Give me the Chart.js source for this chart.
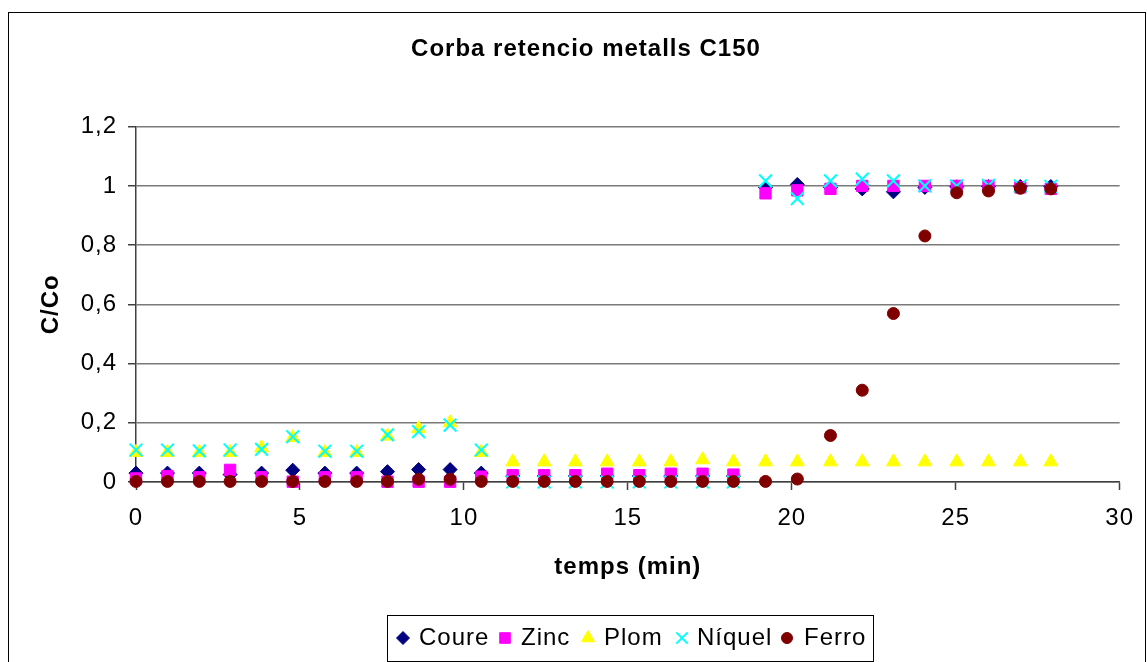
<!DOCTYPE html>
<html><head><meta charset="utf-8">
<script src="https://cdn.jsdelivr.net/npm/chart.js@4.4.1/dist/chart.umd.min.js"></script>
<style>html,body{margin:0;padding:0;background:#fff;overflow:hidden}canvas{display:block}</style>
</head><body>
<canvas id="c" width="1147" height="662"></canvas>
<script>
// ---- DATA ----
const times  = [0, 0.96, 1.93, 2.87, 3.83, 4.78, 5.76, 6.73, 7.67, 8.62, 9.58, 10.53, 11.49, 12.45, 13.4, 14.37, 15.35, 16.31, 17.28, 18.22, 19.2, 20.17, 21.18, 22.15, 23.1, 24.06, 25.03, 26.0, 26.97, 27.9];
const coure  = [0.03, 0.03, 0.03, 0.025, 0.03, 0.04, 0.03, 0.03, 0.035, 0.042, 0.042, 0.03, 0.02, 0.02, 0.02, 0.02, 0.02, 0.02, 0.02, 0.02, 0.995, 1.005, 0.995, 0.99, 0.98, 0.995, 0.997, 0.998, 0.998, 0.998];
const zinc   = [0.012, 0.02, 0.016, 0.041, 0.016, 0.001, 0.016, 0.016, 0.001, 0.001, 0.001, 0.018, 0.023, 0.023, 0.023, 0.028, 0.023, 0.028, 0.028, 0.025, 0.975, 0.985, 0.99, 1.0, 1.0, 1.0, 1.0, 1.0, 0.995, 0.99];
const plom   = [0.1, 0.1, 0.1, 0.1, 0.115, 0.15, 0.1, 0.1, 0.155, 0.18, 0.2, 0.1, 0.068, 0.068, 0.068, 0.068, 0.068, 0.068, 0.075, 0.068, 0.068, 0.068, 0.068, 0.068, 0.068, 0.068, 0.068, 0.068, 0.068, 0.068];
const niquel = [0.108, 0.108, 0.105, 0.108, 0.11, 0.153, 0.104, 0.104, 0.159, 0.17, 0.192, 0.108, 0, 0, 0, 0, 0, 0, 0, 0, 1.017, 0.957, 1.017, 1.023, 1.017, 1.0, 1.0, 1.002, 1.0, 0.999];
const ferro  = [0.002, 0.002, 0.002, 0.002, 0.002, 0.002, 0.002, 0.002, 0.002, 0.009, 0.009, 0.002, 0.002, 0.002, 0.002, 0.002, 0.002, 0.002, 0.002, 0.002, 0.002, 0.01, 0.157, 0.31, 0.569, 0.831, 0.977, 0.983, 0.992, 0.99];

const seriesNames = ['Coure', 'Zinc', 'Plom', 'Níquel', 'Ferro'];
const xTickValues = [0, 5, 10, 15, 20, 25, 30];
const yTickValues = [0, 0.2, 0.4, 0.6, 0.8, 1, 1.2];
const yTickLabels = ['0', '0,2', '0,4', '0,6', '0,8', '1', '1,2'];
const chartTitle = 'Corba retencio metalls C150';
const xTitle = 'temps (min)';
const yTitle = 'C/Co';

// ---- STYLES ----
const FONT = "'Liberation Sans', Arial, Helvetica, sans-serif";
const styles = [
  {pointStyle: 'rectRot',  radius: 7, color: '#000080', bw: 1},
  {pointStyle: 'rect',     radius: 8, color: '#FF00FF', bw: 1},
  {pointStyle: 'triangle', radius: 8, color: '#FFFF00', bw: 1},
  {pointStyle: 'crossRot', radius: 9, color: '#00FFFF', bw: 2},
  {pointStyle: 'circle',   radius: 6, color: '#800000', bw: 1}
];
const seriesValues = [coure, zinc, plom, niquel, ferro];

const datasets = seriesNames.map((name, i) => ({
  label: name,
  data: times.map((t, j) => ({x: t, y: seriesValues[i][j]})),
  pointStyle: styles[i].pointStyle,
  pointRadius: styles[i].radius,
  pointHoverRadius: styles[i].radius,
  backgroundColor: styles[i].color,
  borderColor: styles[i].color,
  borderWidth: styles[i].bw,
  showLine: false,
  clip: false,
  order: seriesNames.length - i
}));

function drawMarker(ctx, style, x, y, r, color, bw) {
  ctx.save();
  ctx.fillStyle = color; ctx.strokeStyle = color; ctx.lineWidth = bw;
  ctx.beginPath();
  if (style === 'rectRot') {
    ctx.moveTo(x, y - r); ctx.lineTo(x + r, y); ctx.lineTo(x, y + r); ctx.lineTo(x - r, y); ctx.closePath();
    ctx.fill(); ctx.stroke();
  } else if (style === 'rect') {
    const s = Math.SQRT1_2 * r;
    ctx.rect(x - s, y - s, 2 * s, 2 * s); ctx.fill(); ctx.stroke();
  } else if (style === 'triangle') {
    const a = 2 * Math.PI / 3;
    ctx.moveTo(x, y - r);
    ctx.lineTo(x + Math.sin(a) * r, y - Math.cos(a) * r);
    ctx.lineTo(x + Math.sin(2 * a) * r, y - Math.cos(2 * a) * r);
    ctx.closePath(); ctx.fill(); ctx.stroke();
  } else if (style === 'crossRot') {
    const d = Math.SQRT1_2 * r;
    ctx.moveTo(x - d, y - d); ctx.lineTo(x + d, y + d);
    ctx.moveTo(x + d, y - d); ctx.lineTo(x - d, y + d);
    ctx.stroke();
  } else {
    ctx.arc(x, y, r, 0, Math.PI * 2); ctx.fill(); ctx.stroke();
  }
  ctx.restore();
}

const legendMarkerX = [403, 505, 588, 682, 787];
const legendTextX = [419, 521, 604, 697, 804];

const decor = {
  id: 'decor',
  beforeDraw(chart) {
    const ctx = chart.ctx;
    ctx.letterSpacing = '1px';
    ctx.save();
    ctx.fillStyle = '#fff';
    ctx.fillRect(0, 0, chart.width, chart.height);
    ctx.strokeStyle = '#000'; ctx.lineWidth = 1;
    ctx.strokeRect(8.5, 12.5, 1137, 700);
    ctx.restore();
  },
  afterDraw(chart) {
    const ctx = chart.ctx;
    const area = chart.chartArea;
    ctx.save();
    ctx.fillStyle = '#000';
    ctx.textAlign = 'center'; ctx.textBaseline = 'middle';
    ctx.font = 'bold 24px ' + FONT;
    ctx.fillText(chartTitle, 586, 49);
    ctx.fillText(xTitle, (area.left + area.right) / 2, 567);
    ctx.save();
    ctx.translate(51, (area.top + area.bottom) / 2);
    ctx.rotate(-Math.PI / 2);
    ctx.fillText(yTitle, 0, 0);
    ctx.restore();
    // legend
    ctx.strokeStyle = '#000'; ctx.lineWidth = 1;
    ctx.strokeRect(387.5, 615.5, 486, 46);
    ctx.font = '24px ' + FONT;
    ctx.textAlign = 'left';
    seriesNames.forEach((name, i) => {
      drawMarker(ctx, styles[i].pointStyle, legendMarkerX[i], 638, styles[i].pointStyle === 'crossRot' ? 8 : styles[i].radius - 0.5, styles[i].color, styles[i].bw);
      ctx.fillStyle = '#000';
      ctx.fillText(name, legendTextX[i], 638);
    });
    ctx.restore();
  }
};

new Chart(document.getElementById('c'), {
  type: 'scatter',
  data: {datasets},
  plugins: [decor],
  options: {
    responsive: false,
    animation: false,
    devicePixelRatio: 1,
    events: [],
    layout: {padding: {top: 126.7, right: 26, left: 0, bottom: 0}},
    plugins: {legend: {display: false}, title: {display: false}, tooltip: {enabled: false}},
    scales: {
      x: {
        type: 'linear', min: 0, max: 30,
        afterBuildTicks: s => { s.ticks = xTickValues.map(v => ({value: v})); },
        afterFit: s => { s.height = 180; },
        ticks: {color: '#000', font: {size: 24, family: FONT}, padding: 14, maxRotation: 0},
        grid: {drawOnChartArea: false, drawTicks: true, tickLength: 8, tickColor: '#404040', tickWidth: 1.5},
        border: {color: '#404040', width: 1.5}
      },
      y: {
        type: 'linear', min: 0, max: 1.2,
        afterBuildTicks: s => { s.ticks = yTickValues.map(v => ({value: v})); },
        afterFit: s => { s.width = 136; },
        ticks: {color: '#000', font: {size: 24, family: FONT}, padding: 11, callback: (v, i) => yTickLabels[i]},
        grid: {color: '#7a7a7a', lineWidth: 1.5, tickLength: 8, tickColor: '#404040', tickWidth: 1.5},
        border: {color: '#404040', width: 1.5}
      }
    }
  }
});
</script>
</body></html>
